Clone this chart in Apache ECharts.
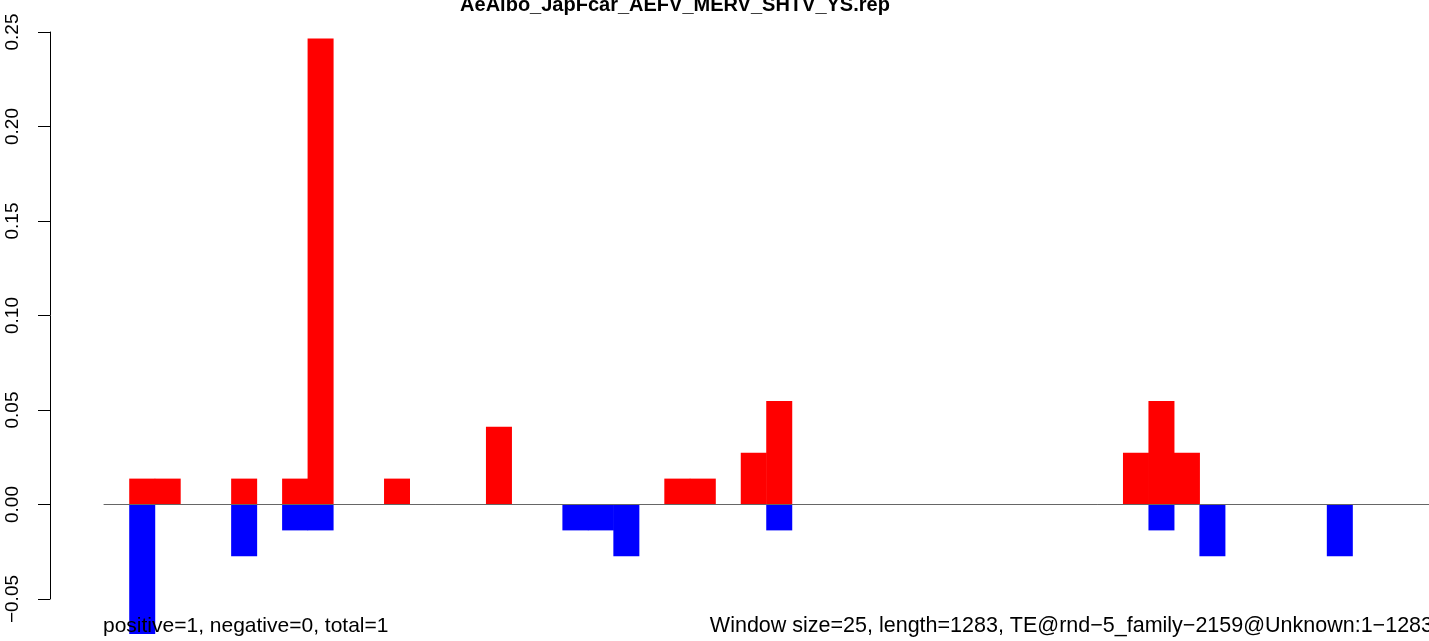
<!DOCTYPE html>
<html>
<head>
<meta charset="utf-8">
<script src="https://cdn.jsdelivr.net/npm/echarts@6/dist/echarts.min.js"></script>
<style>
html,body{margin:0;padding:0;background:#fff;}
#c{width:1429px;height:641px;}
</style>
</head>
<body>
<div id="c"></div>
<script>
// 52 windows of 25 bp along a 1283 bp element
var bins = ['1','2','3','4','5','6','7','8','9','10','11','12','13','14','15','16','17','18','19','20','21','22','23','24','25','26',
            '27','28','29','30','31','32','33','34','35','36','37','38','39','40','41','42','43','44','45','46','47','48','49','50','51','52'];
var positiveValues = [0, 0.0137, 0.0137, 0, 0, 0.0137, 0, 0.0137, 0.2466, 0, 0, 0.0137, 0, 0, 0, 0.0411, 0, 0, 0, 0, 0, 0, 0.0137, 0.0137, 0, 0.0274,
                      0.0548, 0, 0, 0, 0, 0, 0, 0, 0, 0, 0, 0, 0, 0, 0.0274, 0.0548, 0.0274, 0, 0, 0, 0, 0, 0, 0, 0, 0];
var negativeValues = [0, -0.0685, 0, 0, 0, -0.0274, 0, -0.0137, -0.0137, 0, 0, 0, 0, 0, 0, 0, 0, 0, -0.0137, -0.0137, -0.0274, 0, 0, 0, 0, 0,
                      -0.0137, 0, 0, 0, 0, 0, 0, 0, 0, 0, 0, 0, 0, 0, 0, -0.0137, 0, -0.0274, 0, 0, 0, 0, -0.0274, 0, 0, 0];
var yTicks = [-0.05, 0.00, 0.05, 0.10, 0.15, 0.20, 0.25];
var titleText = 'AeAlbo_JapFcar_AEFV_MERV_SHTV_YS.rep';
var leftNote = 'positive=1, negative=0, total=1';
var rightNote = 'Window size=25, length=1283, TE@rnd\u22125_family\u22122159@Unknown:1\u22121283';

var FONT = '"Liberation Sans", Arial, Helvetica, sans-serif';
var chart = echarts.init(document.getElementById('c'), null, {renderer: 'canvas'});
chart.setOption({
  animation: false,
  backgroundColor: '#ffffff',
  grid: {left: 104, right: -1, top: 32, bottom: 42, containLabel: false},
  xAxis: {
    type: 'category',
    data: bins,
    z: 5,
    axisLine: {show: true, onZero: true, lineStyle: {color: '#666666', width: 1}},
    axisTick: {show: false},
    axisLabel: {show: false},
    splitLine: {show: false}
  },
  yAxis: {
    type: 'value',
    min: yTicks[0],
    max: yTicks[yTicks.length - 1],
    interval: 0.05,
    offset: 54,
    axisLine: {show: true, lineStyle: {color: '#000', width: 1}},
    axisTick: {show: true, length: 12, lineStyle: {color: '#000', width: 1}},
    splitLine: {show: false},
    axisLabel: {
      rotate: 90,
      margin: 28,
      color: '#000',
      fontFamily: FONT,
      fontSize: 19,
      formatter: function (v) { return v.toFixed(2).replace('-', '\u2212'); }
    }
  },
  series: [
    {
      type: 'bar',
      data: positiveValues,
      barWidth: 26,
      barGap: '-100%',
      clip: false,
      itemStyle: {color: '#ff0000'}
    },
    {
      type: 'bar',
      data: negativeValues,
      barWidth: 26,
      barGap: '-100%',
      clip: false,
      itemStyle: {color: '#0000ff'}
    }
  ],
  graphic: [
    {type: 'text', x: 675, y: 5, silent: true, z: 10,
     style: {text: titleText, fill: '#000', font: 'bold 20px ' + FONT, textAlign: 'center', textVerticalAlign: 'middle'}},
    {type: 'text', x: 103, y: 626, silent: true, z: 10,
     style: {text: leftNote, fill: '#000', font: '21px ' + FONT, textAlign: 'left', textVerticalAlign: 'middle'}},
    {type: 'text', x: 1433, y: 626, silent: true, z: 10,
     style: {text: rightNote, fill: '#000', font: '21.5px ' + FONT, textAlign: 'right', textVerticalAlign: 'middle'}}
  ]
});
</script>
</body>
</html>
